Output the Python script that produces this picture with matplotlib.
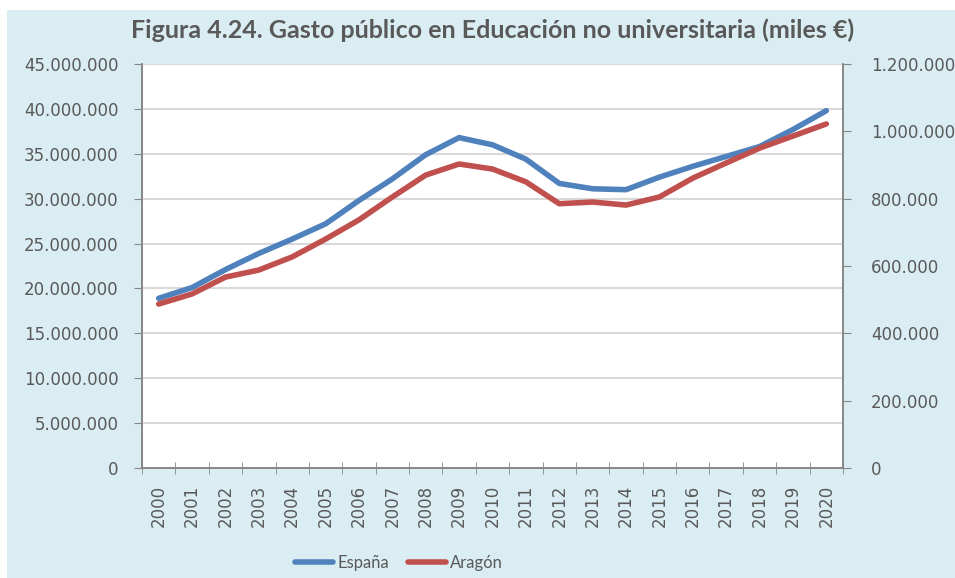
import matplotlib
matplotlib.use("Agg")
import matplotlib.pyplot as plt
from matplotlib.patches import Rectangle
from matplotlib.ticker import FuncFormatter, MultipleLocator, FixedLocator

years = list(range(2000, 2021))
# gasto en miles de euros
espana = [18900000, 20100000, 22100000, 23900000, 25500000, 27200000, 29800000,
          32200000, 34900000, 36800000, 36000000, 34400000, 31700000, 31100000,
          31000000, 32400000, 33600000, 34700000, 35800000, 37700000, 39800000]
aragon = [487000, 517000, 567000, 588000, 627000, 680000, 737000,
          805000, 870000, 903000, 888000, 850000, 785000, 790000,
          781000, 805000, 861000, 906000, 950000, 986000, 1022000]

text_col = "#595959"
axis_col = "#868686"
grid_col = "#D9D9D9"
blue = "#4F81BD"
red = "#C0504D"


def miles(v, pos):
    return f"{int(round(v)):,}".replace(",", ".")


fig = plt.figure(figsize=(9.55, 5.78), dpi=100)
fig.patch.set_facecolor("white")
fig.patches.append(Rectangle((7 / 955, 0), 1 - 7 / 955, 1 - 10 / 578,
                             transform=fig.transFigure, facecolor="#DAEDF3",
                             edgecolor="none", zorder=-10))

ax = fig.add_axes([142 / 955, 1 - 468 / 578, (843 - 142) / 955, (468 - 64) / 578])
ax.set_facecolor("white")
ax2 = ax.twinx()

x = list(range(len(years)))
l1, = ax.plot(x, espana, color=blue, lw=4, solid_capstyle="round", label="España")
l2, = ax2.plot(x, aragon, color=red, lw=4, solid_capstyle="round", label="Aragón")

ax.set_xlim(-0.5, len(years) - 0.5)
ax.set_ylim(0, 45000000)
ax2.set_ylim(0, 1200000)
ax.yaxis.set_major_locator(MultipleLocator(5000000))
ax2.yaxis.set_major_locator(MultipleLocator(200000))
ax.yaxis.set_major_formatter(FuncFormatter(miles))
ax2.yaxis.set_major_formatter(FuncFormatter(miles))

ax.grid(axis="y", color=grid_col, lw=1.5)
ax.set_axisbelow(True)

ax.set_xticks(x)
ax.set_xticklabels([str(y) for y in years], rotation=90)
ax.xaxis.set_minor_locator(FixedLocator([i - 0.5 for i in range(len(years) + 1)]))
ax.tick_params(axis="x", which="major", length=0, pad=12)
ax.tick_params(axis="x", which="minor", length=8, direction="inout", color=axis_col)

for a in (ax, ax2):
    a.tick_params(axis="y", length=6, color=axis_col, labelsize=12, labelcolor=text_col)
    a.tick_params(axis="x", labelsize=12, labelcolor=text_col)
    for s in a.spines.values():
        s.set_color(axis_col)
        s.set_linewidth(1.2)
    a.spines["top"].set_visible(False)
ax.tick_params(axis="y", pad=11)
ax2.tick_params(axis="y", pad=14)

fig.text(493 / 955, 1 - 30 / 578, "Figura 4.24. Gasto público en Educación no universitaria (miles €)",
         ha="center", va="center", fontsize=18, fontweight="bold", color=text_col,
         family=["Lato", "DejaVu Sans"])

fig.legend([l1, l2], ["España", "Aragón"], loc="center", bbox_to_anchor=(399 / 955, 1 - 563 / 578),
           ncol=2, frameon=False, handlelength=2.3, handletextpad=0.25, columnspacing=1.1,
           prop={"family": "Lato", "size": 12}, labelcolor=text_col)

fig.savefig("out.png", dpi=100)
